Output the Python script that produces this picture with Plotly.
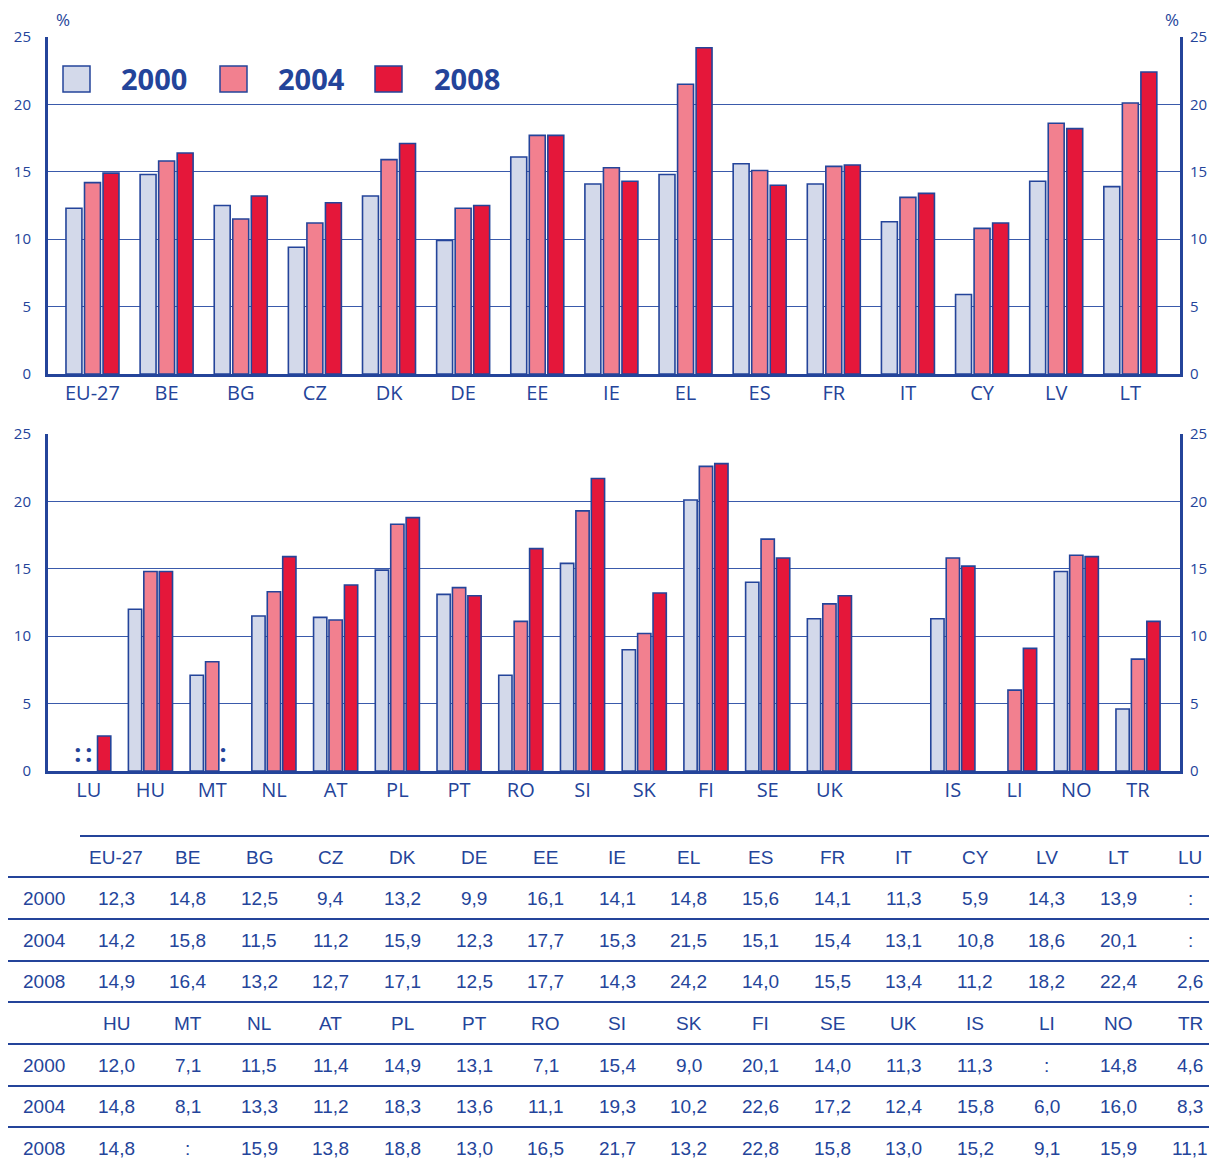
import plotly.graph_objects as go

# ---------------- data ----------------
years = ["2000", "2004", "2008"]

top_countries = ["EU-27", "BE", "BG", "CZ", "DK", "DE", "EE", "IE", "EL", "ES", "FR", "IT", "CY", "LV", "LT"]
top_2000 = [12.3, 14.8, 12.5, 9.4, 13.2, 9.9, 16.1, 14.1, 14.8, 15.6, 14.1, 11.3, 5.9, 14.3, 13.9]
top_2004 = [14.2, 15.8, 11.5, 11.2, 15.9, 12.3, 17.7, 15.3, 21.5, 15.1, 15.4, 13.1, 10.8, 18.6, 20.1]
top_2008 = [14.9, 16.4, 13.2, 12.7, 17.1, 12.5, 17.7, 14.3, 24.2, 14.0, 15.5, 13.4, 11.2, 18.2, 22.4]

bottom_countries = ["LU", "HU", "MT", "NL", "AT", "PL", "PT", "RO", "SI", "SK", "FI", "SE", "UK", "", "IS", "LI", "NO", "TR"]
bottom_2000 = [None, 12.0, 7.1, 11.5, 11.4, 14.9, 13.1, 7.1, 15.4, 9.0, 20.1, 14.0, 11.3, None, 11.3, None, 14.8, 4.6]
bottom_2004 = [None, 14.8, 8.1, 13.3, 11.2, 18.3, 13.6, 11.1, 19.3, 10.2, 22.6, 17.2, 12.4, None, 15.8, 6.0, 16.0, 8.3]
bottom_2008 = [2.6, 14.8, None, 15.9, 13.8, 18.8, 13.0, 16.5, 21.7, 13.2, 22.8, 15.8, 13.0, None, 15.2, 9.1, 15.9, 11.1]

# ':' (not available) markers shown inside the chart
chart_missing = [("LU", "2000"), ("LU", "2004"), ("MT", "2008")]

y_ticks = [0, 5, 10, 15, 20, 25]

# ---------------- styling ----------------
W, H = 1209, 1164
BLUE = "#24449a"
GRID = "#3a5aab"
COLORS = {"2000": "#d3d9ea", "2004": "#f2808f", "2008": "#e5173a"}
BAR_W = 0.215
STEP = 0.25
LABEL_FONT = "Open Sans"
TABLE_FONT = "Liberation Sans"


def px_x(x):
    return x / W


def px_y(y):
    return 1 - y / H


def fmt(v):
    return ":" if v is None else f"{v:.1f}".replace(".", ",")


fig = go.Figure()

panels = [
    dict(countries=top_countries, series=[top_2000, top_2004, top_2008], xa="x", ya="y", ya_r="y2"),
    dict(countries=bottom_countries, series=[bottom_2000, bottom_2004, bottom_2008], xa="x2", ya="y3", ya_r="y4"),
]

for p in panels:
    idx = list(range(len(p["countries"])))
    for k, (yr, vals) in enumerate(zip(years, p["series"])):
        fig.add_trace(go.Bar(
            x=idx, y=vals, width=BAR_W, offset=(k - 1) * STEP - BAR_W / 2,
            marker=dict(color=COLORS[yr], line=dict(color=BLUE, width=1.6)),
            xaxis=p["xa"], yaxis=p["ya"], showlegend=False, name=yr,
        ))
        mx = [i + (k - 1) * STEP * 0.7 for i, c in enumerate(p["countries"]) if (c, yr) in chart_missing]
        if mx:
            fig.add_trace(go.Scatter(
                x=mx, y=[1.1] * len(mx), mode="text", text=[":"] * len(mx),
                textfont=dict(family=LABEL_FONT, size=25, color=BLUE, weight="bold"),
                xaxis=p["xa"], yaxis=p["ya"], showlegend=False, hoverinfo="skip",
            ))
    fig.add_trace(go.Scatter(x=[0], y=[0], mode="markers", marker=dict(opacity=0),
                             xaxis=p["xa"], yaxis=p["ya_r"], showlegend=False, hoverinfo="skip"))

x_dom = [px_x(48), px_x(1180)]
top_dom = [px_y(374), px_y(37)]
bot_dom = [px_y(771), px_y(434)]

xcommon = dict(showline=True, linewidth=3, linecolor=BLUE, showgrid=False, zeroline=False, automargin=False,
               ticks="", tickfont=dict(family=LABEL_FONT, size=20, color=BLUE), ticklabelstandoff=-1)
ycommon = dict(range=[0, 25], tickvals=y_ticks, showline=True, linewidth=3, linecolor=BLUE, automargin=False,
               zeroline=False, ticks="", tickfont=dict(family=LABEL_FONT, size=15, color=BLUE))

fig.update_layout(
    width=W, height=H, margin=dict(l=0, r=0, t=0, b=0, autoexpand=False), autosize=False,
    paper_bgcolor="white", plot_bgcolor="white", barmode="overlay", showlegend=False,
    xaxis=dict(domain=x_dom, anchor="y", range=[-0.6, 14.67], tickvals=list(range(len(top_countries))),
               ticktext=top_countries, **xcommon),
    yaxis=dict(domain=top_dom, anchor="x", showgrid=True, gridcolor=GRID, gridwidth=1,
               ticklabelstandoff=11, **ycommon),
    yaxis2=dict(overlaying="y", side="right", anchor="x", showgrid=False, ticklabelstandoff=4, **ycommon),
    xaxis2=dict(domain=x_dom, anchor="y3", range=[-0.66, 17.68], tickvals=list(range(len(bottom_countries))),
                ticktext=bottom_countries, **xcommon),
    yaxis3=dict(domain=bot_dom, anchor="x2", showgrid=True, gridcolor=GRID, gridwidth=1,
                ticklabelstandoff=11, **ycommon),
    yaxis4=dict(overlaying="y3", side="right", anchor="x2", showgrid=False, ticklabelstandoff=4, **ycommon),
)

shapes = []
annotations = []


def note(x, y, text, font):
    annotations.append(dict(x=px_x(x), y=px_y(y), xref="paper", yref="paper", text=text, showarrow=False,
                            xanchor="center", yanchor="middle", font=font))


# % labels
for xx in (63, 1172):
    note(xx, 19, "%", dict(family=LABEL_FONT, size=17, color=BLUE))

# legend
legend_pos = [(63, 154), (220, 311), (375, 467)]
for yr, (sx, tx) in zip(years, legend_pos):
    shapes.append(dict(type="rect", xref="paper", yref="paper", x0=px_x(sx), x1=px_x(sx + 27),
                       y0=px_y(92), y1=px_y(66), fillcolor=COLORS[yr], line=dict(color=BLUE, width=1.5)))
    note(tx, 79, yr, dict(family=LABEL_FONT, size=29, color=BLUE, weight="bold"))

# ---------------- table ----------------
block1_cols = top_countries + ["LU"]
block1_vals = [top_2000 + [bottom_2000[0]], top_2004 + [bottom_2004[0]], top_2008 + [bottom_2008[0]]]
keep = [i for i, c in enumerate(bottom_countries) if c not in ("", "LU")]
block2_cols = [bottom_countries[i] for i in keep]
block2_vals = [[s[i] for i in keep] for s in (bottom_2000, bottom_2004, bottom_2008)]

col_x0, col_dx = 116, 71.6
row_y = [857, 898, 940, 981, 1023, 1065, 1106, 1148]
tfont = dict(family=TABLE_FONT, size=19, color=BLUE)

rows = [("", block1_cols)] + [(yr, [fmt(v) for v in vals]) for yr, vals in zip(years, block1_vals)] + \
       [("", block2_cols)] + [(yr, [fmt(v) for v in vals]) for yr, vals in zip(years, block2_vals)]

for (label, cells), ry in zip(rows, row_y):
    if label:
        note(44, ry, label, tfont)
    for j, c in enumerate(cells):
        note(col_x0 + j * col_dx, ry, c, tfont)

line_specs = [(836, 80)] + [(yy, 8) for yy in (877, 919, 961, 1002, 1044, 1086, 1127)]
for yy, x0 in line_specs:
    shapes.append(dict(type="line", xref="paper", yref="paper", x0=px_x(x0), x1=1, y0=px_y(yy), y1=px_y(yy),
                       line=dict(color=BLUE, width=2)))

fig.update_layout(shapes=shapes, annotations=annotations)

fig.write_html(
    "out.html",
    config={"displayModeBar": False},
    post_script=(
        "document.documentElement.style.margin='0';"
        "document.body.style.margin='0';"
        "document.body.style.overflow='hidden';"
        "var gd=document.getElementById('{plot_id}');"
        "gd.style.position='absolute';gd.style.top='0px';gd.style.left='0px';"
    ),
)
